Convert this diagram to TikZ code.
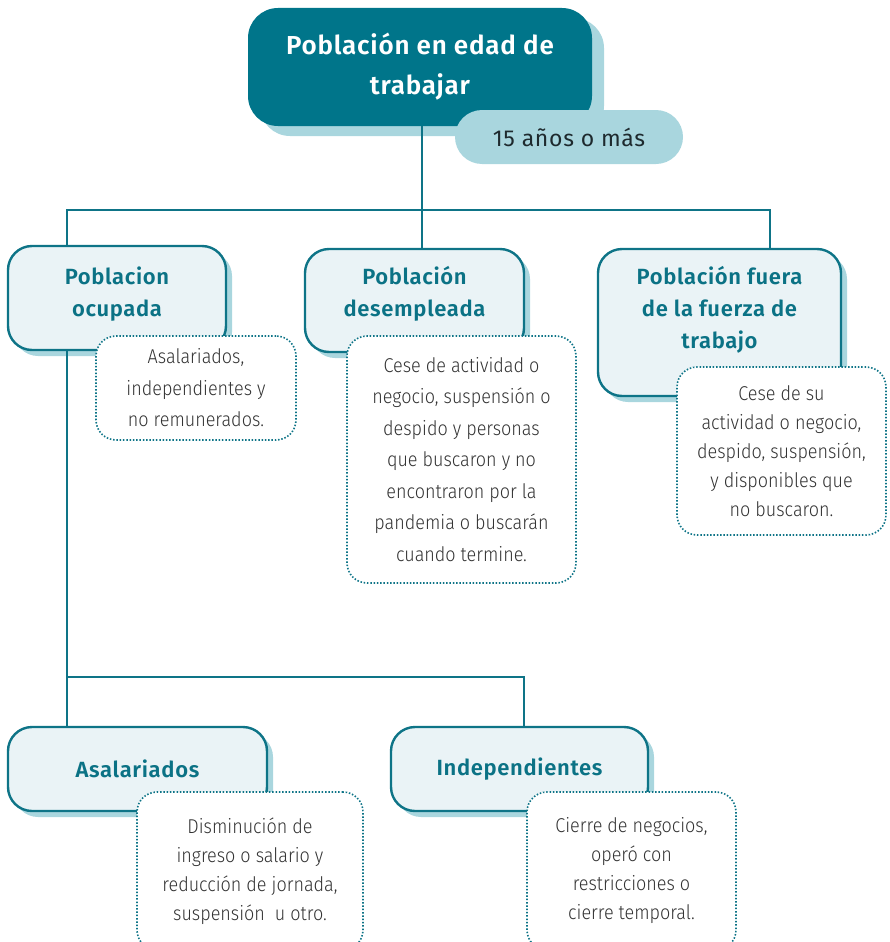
\documentclass[tikz,border=0pt]{standalone}
\usepackage{fontspec}
\setmainfont{Fira Sans}
\newfontfamily\headfont{Fira Sans}[UprightFont={* SemiBold}, LetterSpace=3]
\newfontfamily\pillfont{Fira Sans}[LetterSpace=3]
\newfontfamily\notefont{Fira Sans}[UprightFont={* Light}, FakeStretch=0.9]
\usetikzlibrary{positioning, shadows}

\definecolor{tealdark}{HTML}{00758A}
\definecolor{tealline}{HTML}{0E7487}
\definecolor{tealtext}{HTML}{0B7285}
\definecolor{tealshadow}{HTML}{A9D6DE}
\definecolor{boxfill}{HTML}{EAF3F6}
\definecolor{notetext}{HTML}{333333}
\definecolor{pilltext}{HTML}{1E2A2E}

\begin{document}
\begin{tikzpicture}[
    x=1pt, y=-1pt,
    headtxt/.style={align=center, text=tealtext, font=\headfont\fontsize{22}{32}\selectfont},
    head/.style={headtxt, draw=tealline, line width=2.4pt, fill=boxfill, rounded corners=24pt,
      drop shadow={fill=tealshadow, opacity=1, shadow xshift=6pt, shadow yshift=-6pt}},
    note/.style={draw=tealline, dash pattern=on 1.5pt off 1.8pt, line width=1.6pt, fill=white,
      rounded corners=20pt, align=center, text=notetext, font=\notefont\fontsize{20}{31.5}\selectfont},
    tight/.style={font=\notefont\fontsize{20}{29}\selectfont},
    link/.style={draw=tealline, line width=2pt}
  ]
    \useasboundingbox (0,0) rectangle (890,942);

    % top of the tree
    \node[fill=tealdark, rounded corners=30pt, minimum width=344pt, minimum height=118pt,
      align=center, text=white, font=\headfont\fontsize{26}{40}\selectfont,
      drop shadow={fill=tealshadow, opacity=1, shadow xshift=12pt, shadow yshift=-10pt}] (pet)
      at (420,67) {Población en edad de\\trabajar};
    \node[fill=tealshadow, rounded corners=27pt, minimum width=228pt, minimum height=54pt,
      text=pilltext, font=\pillfont\fontsize{23}{28}\selectfont] (edad)
      at (569,137) {15 años o más};

    % second level
    \node[head, minimum width=218pt, minimum height=104pt] (ocupada)
      at (117,298) {};
    \node[headtxt] (ocupadatxt) at (117,294) {Poblacion\\ocupada};
    \node[head, minimum width=219pt, minimum height=103pt] (desemp)
      at (414.5,300.5) {};
    \node[headtxt] (desemptxt) at (414.5,294) {Población\\desempleada};
    \node[head, minimum width=243pt, minimum height=147pt] (fuera)
      at (719.5,322.5) {};
    \node[headtxt] (fueratxt) at (719.5,310) {Población fuera\\de la fuerza de\\trabajo};

    \node[note, minimum width=200pt, minimum height=104pt] (ocupnote)
      at (196,388) {Asalariados,\\independientes y\\no remunerados.};
    \node[note, minimum width=229pt, minimum height=247pt] (desempnote)
      at (461.5,459.5) {Cese de actividad o\\negocio, suspensión o\\despido y personas\\que buscaron y no\\encontraron por la\\pandemia o buscarán\\cuando termine.};
    \node[note, tight, minimum width=209pt, minimum height=168pt] (fueranote)
      at (781.5,451) {Cese de su\\actividad o negocio,\\despido, suspensión,\\y disponibles que\\no buscaron.};

    % third level
    \node[head, minimum width=259pt, minimum height=84pt] (asal)
      at (137.5,769) {Asalariados};
    \node[head, minimum width=257pt, minimum height=84pt] (indep)
      at (519.5,769) {Independientes};

    \node[note, tight, minimum width=226pt, minimum height=158pt] (asalnote)
      at (250,871) {Disminución de\\ingreso o salario y\\reducción de jornada,\\suspensión\ \ u otro.};
    \node[note, tight, minimum width=209pt, minimum height=158pt] (indepnote)
      at (631.5,871) {Cierre de negocios,\\operó con\\restricciones o\\cierre temporal.};

    % connectors
    \coordinate (midbus) at (422,210);
    \coordinate (leftbus) at (67,210);
    \coordinate (rightbus) at (770,210);
    \coordinate (lowL) at (67,677);
    \coordinate (lowR) at (524,677);
    \draw[link] (pet.south -| midbus) -- (desemp.north -| midbus);
    \draw[link] (ocupada.north -| leftbus) -- (leftbus) -- (rightbus) -- (fuera.north -| rightbus);
    \draw[link] (ocupada.south -| lowL) -- (asal.north -| lowL);
    \draw[link] (lowL) -- (lowR) -- (indep.north -| lowR);
\end{tikzpicture}
\end{document}
